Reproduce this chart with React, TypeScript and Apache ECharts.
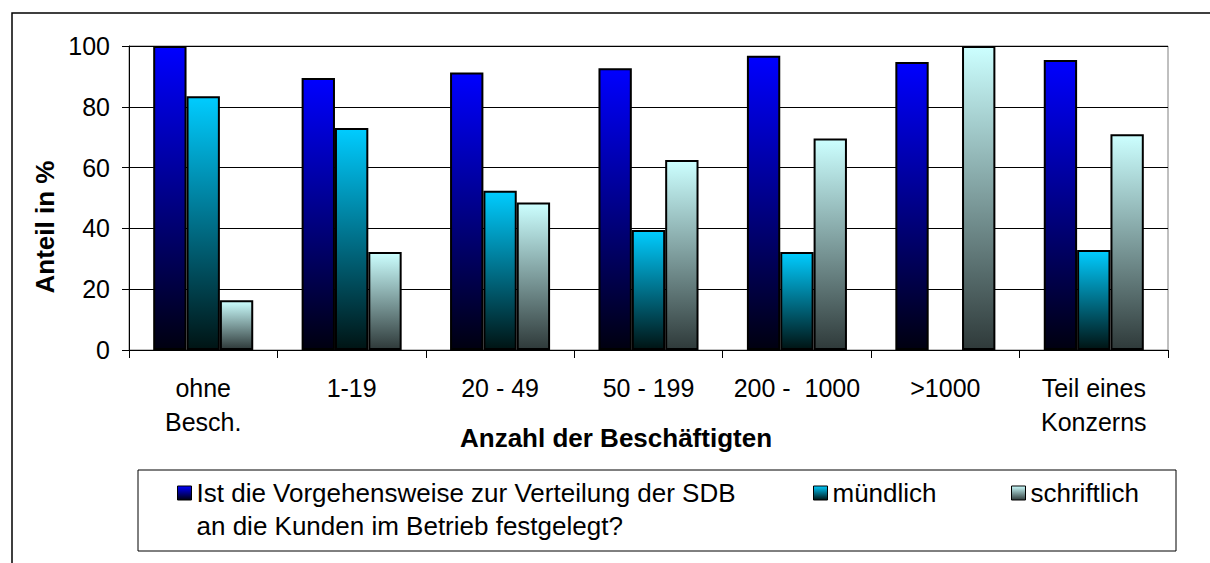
import React, { useEffect, useRef } from 'react';
import * as echarts from 'echarts';

const categories = ['ohne\nBesch.', '1-19', '20 - 49', '50 - 199', '200 -  1000', '>1000', 'Teil eines\nKonzerns'];
const festgelegt = [100, 89.5, 91.3, 92.7, 96.8, 94.7, 95.4];
const muendlich: (number | string)[] = [83.5, 73, 52.4, 39.5, 32.2, '-', 32.9];
const schriftlich = [16.4, 32.2, 48.5, 62.5, 69.6, 100, 71];
const seriesNames = [
  'Ist die Vorgehensweise zur Verteilung der SDB\nan die Kunden im Betrieb festgelegt?',
  'mündlich',
  'schriftlich',
];
const yAxisTitle = 'Anteil in %';
const xAxisTitle = 'Anzahl der Beschäftigten';
const yMin = 0;
const yMax = 100;
const yStep = 20;

const FONT = '"Liberation Sans", Arial, sans-serif';

const grad = (top: string, bottom: string) =>
  new echarts.graphic.LinearGradient(0, 0, 0, 1, [
    { offset: 0, color: top },
    { offset: 1, color: bottom },
  ]);

export default function App() {
  const ref = useRef<HTMLDivElement>(null);
  useEffect(() => {
    if (!ref.current) return;
    const chart = echarts.init(ref.current, undefined, { renderer: 'svg' });
    const colors = [
      grad('#0000FF', '#000010'),
      grad('#00CCFF', '#001414'),
      grad('#CCFFFF', '#2F3A3A'),
    ];
    const datas = [festgelegt, muendlich, schriftlich];
    const legendLeft = [177, 813, 1011];
    chart.setOption({
      animation: false,
      textStyle: { fontFamily: FONT },
      grid: {
        left: 129,
        right: 42,
        top: 46,
        bottom: 213,
        show: true,
        borderColor: '#808080',
        borderWidth: 1,
        backgroundColor: 'transparent',
      },
      legend: seriesNames.map((n, i) => ({
        data: [n],
        left: legendLeft[i],
        top: i === 0 ? 493 - 49.5 : 493 - 16.5,
        padding: 0,
        icon: 'rect',
        itemWidth: 14,
        itemHeight: 14,
        selectedMode: false,
        formatter: i === 0 ? (name: string) => ' \n' + name : undefined,
        itemStyle: { borderColor: '#000', borderWidth: 1 },
        textStyle: {
          fontFamily: FONT,
          fontSize: 26,
          color: '#000',
          lineHeight: 33,
        },
      })),
      xAxis: {
        type: 'category',
        data: categories,
        boundaryGap: true,
        axisLine: { show: true, lineStyle: { color: '#000', width: 1 } },
        axisTick: { show: true, length: 8, inside: false, alignWithLabel: false, lineStyle: { color: '#000' } },
        axisLabel: {
          interval: 0,
          fontSize: 25,
          lineHeight: 34,
          margin: 21,
          color: '#000',
          fontFamily: FONT,
        },
        splitLine: { show: false },
      },
      yAxis: {
        type: 'value',
        min: yMin,
        max: yMax,
        interval: yStep,
        axisLine: { show: true, lineStyle: { color: '#000', width: 1 } },
        axisTick: { show: true, length: 7, inside: false, lineStyle: { color: '#000' } },
        axisLabel: { fontSize: 25, margin: 19, color: '#000', fontFamily: FONT },
        splitLine: { show: true, lineStyle: { color: '#000', width: 1 } },
      },
      series: seriesNames.map((n, i) => ({
        name: n,
        type: 'bar',
        data: datas[i],
        barGap: '0%',
        barCategoryGap: '32.6%',
        itemStyle: { color: colors[i], borderColor: '#000', borderWidth: 2 },
      })),
      graphic: [
        {
          type: 'rect',
          silent: true,
          z: -1,
          shape: { x: 12, y: 13, width: 1400, height: 800 },
          style: { fill: 'none', stroke: '#000', lineWidth: 1.5 },
        },
        {
          type: 'rect',
          silent: true,
          z: -1,
          shape: { x: 138, y: 470, width: 1038, height: 81 },
          style: { fill: 'none', stroke: '#000', lineWidth: 1 },
        },
        {
          type: 'text',
          x: 616,
          y: 438,
          style: {
            text: xAxisTitle,
            font: `bold 26px ${FONT}`,
            fill: '#000',
            align: 'center',
            verticalAlign: 'middle',
          },
        },
        {
          type: 'text',
          x: 45,
          y: 227,
          rotation: Math.PI / 2,
          style: {
            text: yAxisTitle,
            font: `bold 26px ${FONT}`,
            fill: '#000',
            align: 'center',
            verticalAlign: 'middle',
          },
        },
      ],
    });
    return () => chart.dispose();
  }, []);
  return (
    <div
      ref={ref}
      style={{ position: 'absolute', left: 0, top: 0, width: 1210, height: 563 }}
    />
  );
}
